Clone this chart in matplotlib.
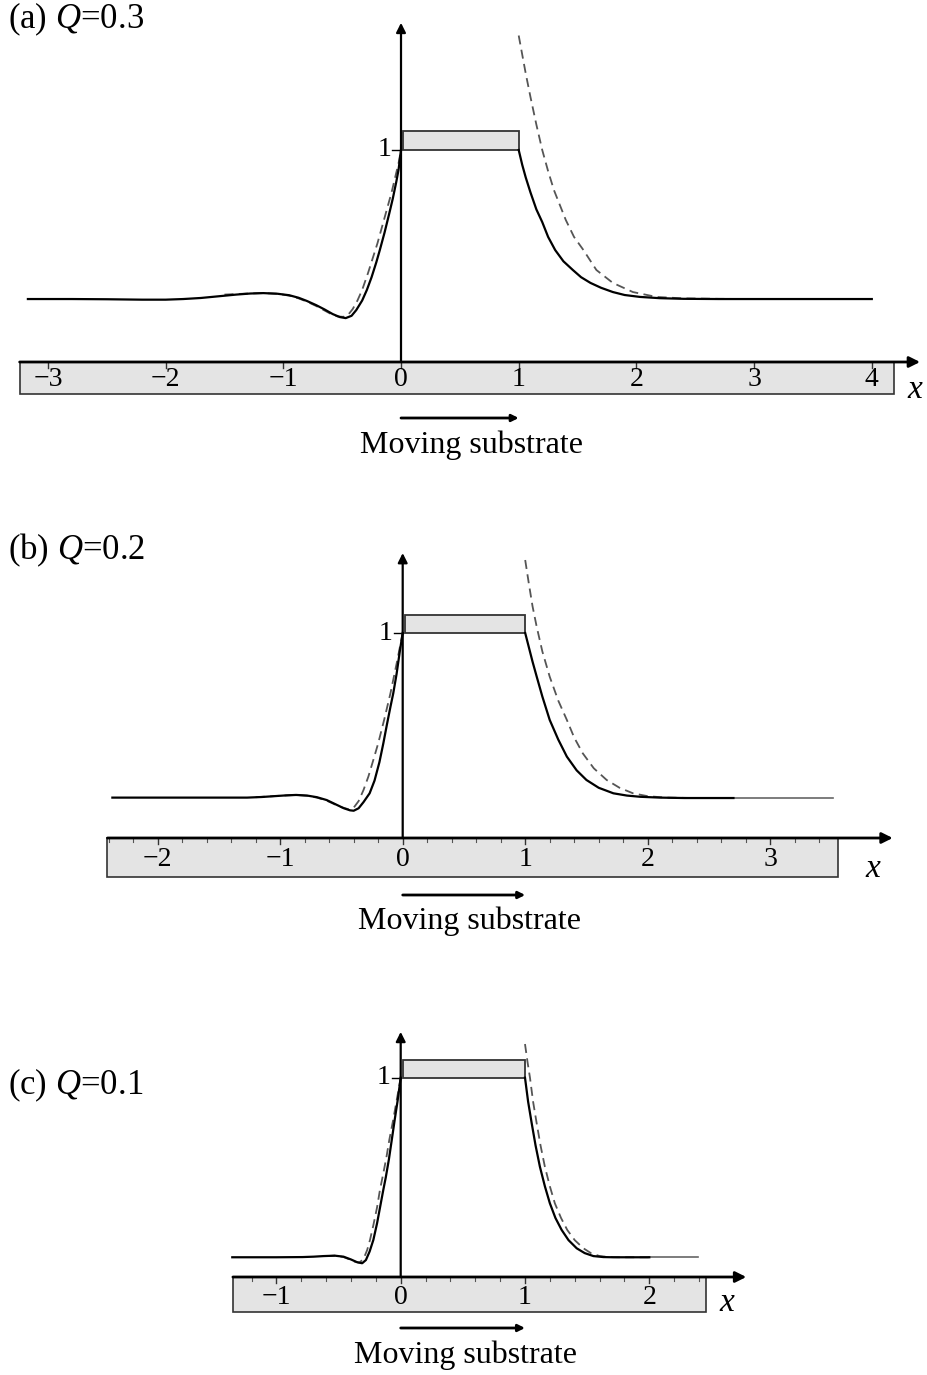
import numpy as np
import matplotlib
matplotlib.use('Agg')
import matplotlib.pyplot as plt
from matplotlib.patches import Rectangle

plt.rcParams['font.family'] = ['Liberation Serif', 'DejaVu Serif']
plt.rcParams['mathtext.fontset'] = 'custom'
plt.rcParams['mathtext.rm'] = 'Liberation Serif'
plt.rcParams['mathtext.it'] = 'Liberation Serif:italic'

# ---- data (x, film height) ----
# (a) Q=0.3
a_left_x = [-3.17, -2.8, -2.5, -2.2, -2.0, -1.85, -1.7, -1.55, -1.4, -1.28, -1.17, -1.05, -0.95, -0.87,
            -0.8, -0.72, -0.65, -0.58, -0.52, -0.47, -0.42, -0.38, -0.33, -0.29, -0.25, -0.21, -0.18,
            -0.14, -0.1, -0.07, -0.04, -0.02, 0.0]
a_left_y = [0.297, 0.297, 0.296, 0.294, 0.294, 0.297, 0.302, 0.310, 0.318, 0.323, 0.325, 0.322, 0.315, 0.303,
            0.288, 0.268, 0.248, 0.226, 0.212, 0.207, 0.218, 0.245, 0.290, 0.34, 0.40, 0.47, 0.528,
            0.61, 0.70, 0.77, 0.85, 0.91, 1.0]
a_right_x = [1.0, 1.03, 1.06, 1.1, 1.15, 1.2, 1.25, 1.31, 1.38, 1.46, 1.53, 1.61, 1.7, 1.8, 1.9, 2.03,
             2.2, 2.4, 2.7, 4.0]
a_right_y = [1.0, 0.93, 0.87, 0.80, 0.72, 0.66, 0.59, 0.528, 0.475, 0.434, 0.400, 0.373, 0.350, 0.330,
             0.316, 0.307, 0.301, 0.298, 0.297, 0.297]
a_dleft_x = [-1.5, -1.3, -1.17, -1.05, -0.95, -0.87, -0.8, -0.72, -0.65, -0.59, -0.54, -0.49, -0.45,
             -0.41, -0.37, -0.33, -0.28, -0.24, -0.2, -0.16, -0.12, -0.08, -0.05, -0.02, 0.0]
a_dleft_y = [0.318, 0.323, 0.325, 0.322, 0.313, 0.300, 0.285, 0.264, 0.243, 0.225, 0.215, 0.213, 0.222,
             0.250, 0.29, 0.34, 0.42, 0.49, 0.56, 0.64, 0.72, 0.80, 0.87, 0.94, 1.0]
a_dright_x = [1.0, 1.03, 1.06, 1.1, 1.15, 1.2, 1.25, 1.3, 1.35, 1.4, 1.47, 1.55, 1.66, 1.8, 1.97, 2.17,
              2.4, 2.7, 3.0]
a_dright_y = [1.54, 1.45, 1.36, 1.25, 1.12, 1.0, 0.90, 0.81, 0.74, 0.67, 0.59, 0.528, 0.434, 0.373,
              0.330, 0.307, 0.300, 0.298, 0.297]

# (b) Q=0.2
b_left_x = [-2.37, -2.0, -1.6, -1.27, -1.15, -1.05, -0.95, -0.87, -0.78, -0.7, -0.62, -0.55, -0.48,
            -0.43, -0.40, -0.36, -0.32, -0.27, -0.23, -0.19, -0.158, -0.13, -0.10, -0.077, -0.05,
            -0.022, 0.0]
b_left_y = [0.197, 0.197, 0.197, 0.197, 0.200, 0.204, 0.208, 0.210, 0.207, 0.199, 0.185, 0.165, 0.145,
            0.135, 0.133, 0.145, 0.175, 0.218, 0.28, 0.37, 0.462, 0.55, 0.64, 0.706, 0.80,
            0.917, 1.0]
b_right_x = [1.0, 1.03, 1.06, 1.094, 1.14, 1.2, 1.27, 1.34, 1.42, 1.5, 1.6, 1.72, 1.83, 1.94, 2.1, 2.3, 2.7]
b_right_y = [1.0, 0.93, 0.86, 0.787, 0.69, 0.576, 0.48, 0.397, 0.33, 0.283, 0.245, 0.218, 0.207, 0.201,
             0.197, 0.195, 0.195]
b_tail_x = [2.7, 3.51]
b_tail_y = [0.195, 0.195]
b_dleft_x = [-1.2, -1.0, -0.87, -0.78, -0.7, -0.62, -0.55, -0.5, -0.44, -0.40, -0.36, -0.32, -0.28,
             -0.24, -0.2, -0.15, -0.1, -0.05, 0.0]
b_dleft_y = [0.199, 0.206, 0.210, 0.206, 0.197, 0.182, 0.163, 0.150, 0.140, 0.148, 0.180, 0.234, 0.30,
             0.38, 0.462, 0.58, 0.706, 0.85, 1.0]
b_dright_x = [1.0, 1.03, 1.06, 1.094, 1.14, 1.2, 1.27, 1.34, 1.4, 1.47, 1.56, 1.665, 1.77, 1.88, 2.0,
              2.15, 2.4]
b_dright_y = [1.356, 1.24, 1.13, 1.03, 0.91, 0.787, 0.67, 0.576, 0.49, 0.413, 0.34, 0.283, 0.245, 0.218,
              0.204, 0.197, 0.195]

# (c) Q=0.1
c_left_x = [-1.355, -1.0, -0.79, -0.7, -0.62, -0.53, -0.46, -0.40, -0.35, -0.31, -0.28, -0.25, -0.22,
            -0.19, -0.16, -0.14, -0.12, -0.095, -0.072, -0.048, -0.024, 0.0]
c_left_y = [0.099, 0.099, 0.100, 0.102, 0.105, 0.107, 0.102, 0.088, 0.074, 0.069, 0.085, 0.128, 0.186,
            0.27, 0.37, 0.437, 0.50, 0.59, 0.687, 0.79, 0.888, 1.0]
c_right_x = [1.0, 1.025, 1.054, 1.085, 1.12, 1.16, 1.2, 1.245, 1.295, 1.35, 1.416, 1.48, 1.55, 1.63, 1.71, 2.0]
c_right_y = [1.0, 0.88, 0.771, 0.66, 0.553, 0.455, 0.370, 0.296, 0.236, 0.185, 0.144, 0.120, 0.105,
             0.100, 0.099, 0.099]
c_tail_x = [2.0, 2.39]
c_tail_y = [0.099, 0.099]
c_dleft_x = [-0.6, -0.53, -0.46, -0.41, -0.37, -0.333, -0.3, -0.27, -0.247, -0.22, -0.19, -0.167, -0.14,
             -0.115, -0.092, -0.06, -0.032, 0.0]
c_dleft_y = [0.105, 0.107, 0.100, 0.088, 0.077, 0.072, 0.090, 0.135, 0.186, 0.26, 0.35, 0.437, 0.52,
             0.60, 0.687, 0.79, 0.888, 1.0]
c_dright_x = [1.0, 1.02, 1.04, 1.065, 1.094, 1.125, 1.16, 1.2, 1.24, 1.29, 1.34, 1.4, 1.47, 1.53, 1.60,
              1.68, 1.76, 2.0]
c_dright_y = [1.169, 1.08, 1.0, 0.88, 0.771, 0.66, 0.553, 0.455, 0.370, 0.296, 0.236, 0.185, 0.144,
              0.120, 0.105, 0.100, 0.099, 0.099]

W, H = 927, 1375
fig = plt.figure(figsize=(W / 100, H / 100), dpi=100)

SOLID = dict(color='black', lw=1.6, solid_joinstyle='round', clip_on=False, zorder=4)
DASH = dict(color='#555555', lw=1.3, dashes=(5, 3), clip_on=False, zorder=3)
FS_TICK = 20
FS_TEXT = 23
FS_LABEL = 25


def make_panel(px0, sx, py0, sy, top_px, bot_px):
    ax = fig.add_axes([0, 1 - bot_px / H, 1, (bot_px - top_px) / H])
    ax.set_xlim(-px0 / sx, (W - px0) / sx)
    ax.set_ylim((py0 - bot_px) / sy, (py0 - top_px) / sy)
    ax.axis('off')
    return ax


def draw_panel(ax, sx, sy, box, arrow_end, y_top, majors, minors, label, label_y,
               xlab_x, xlab_y, tl_off, ms_y, ms_text_y, ms_text_x):
    # substrate
    ax.add_patch(Rectangle((box[0], box[2]), box[1] - box[0], -box[2],
                           fc='#e4e4e4', ec='#333333', lw=1.2, zorder=1))
    ax.annotate('', xy=(arrow_end, 0), xytext=(box[0], 0),
                arrowprops=dict(arrowstyle='-|>', lw=2.0, color='black',
                                mutation_scale=16, shrinkA=0, shrinkB=0), zorder=5)
    for t in majors:
        ax.plot([t, t], [0, -6 / sy], color='#333333', lw=1.0, zorder=2)
        s = ('\u2212%d' % -t) if t < 0 else '%d' % t
        ax.text(t, -tl_off / sy, s, ha='center', va='center', fontsize=FS_TICK)
    for t in minors:
        ax.plot([t, t], [0, -3.5 / sy], color='#555555', lw=0.8, zorder=2)
    # y axis
    ax.annotate('', xy=(0, y_top), xytext=(0, 0),
                arrowprops=dict(arrowstyle='-|>', lw=1.6, color='black',
                                mutation_scale=14, shrinkA=0, shrinkB=0), zorder=5)
    ax.plot([-9 / sx, 0], [1, 1], color='black', lw=1.0)
    ax.text(-10 / sx, 1, '1', ha='right', va='center', fontsize=FS_TICK)
    # die
    ax.add_patch(Rectangle((2 / sx, 1), 1 - 2 / sx, 0.09,
                           fc='#e4e4e4', ec='#333333', lw=1.3, zorder=3))
    # moving substrate arrow
    ax.annotate('', xy=(1.0, ms_y), xytext=(0, ms_y),
                arrowprops=dict(arrowstyle='-|>', lw=2.0, color='black',
                                mutation_scale=10, shrinkA=0, shrinkB=0))
    ax.text(ms_text_x, ms_text_y, 'Moving substrate', ha='center', va='center', fontsize=FS_TEXT)
    ax.text(xlab_x, xlab_y, 'x', ha='center', va='center', fontsize=FS_TEXT + 1, style='italic')
    ax.text(label[0], label_y, label[1], ha='left', va='center', fontsize=FS_LABEL)


# (a)
sx, sy = 117.7, 212.0
ax = make_panel(401, sx, 362, sy, 0, 475)
ax.plot(a_dleft_x, a_dleft_y, **DASH)
ax.plot(a_dright_x, a_dright_y, **DASH)
ax.plot(a_left_x, a_left_y, **SOLID)
ax.plot(a_right_x, a_right_y, **SOLID)
draw_panel(ax, sx, sy, (-3.24, 4.19, -0.151), 4.41, 1.6, range(-3, 5), [],
           (-3.34, '(a) $Q$=0.3'), (362 - 19) / sy, (915 - 401) / sx, (362 - 390) / sy, 18,
           (362 - 418) / sy, (362 - 445) / sy, (472 - 401) / sx)

# (b)
sx, sy = 122.5, 205.0
ax = make_panel(402.7, sx, 838, sy, 475, 950)
ax.plot(b_dleft_x, b_dleft_y, **DASH)
ax.plot(b_dright_x, b_dright_y, **DASH)
ax.plot(b_left_x, b_left_y, **SOLID)
ax.plot(b_right_x, b_right_y, **SOLID)
ax.plot(b_tail_x, b_tail_y, color='#666666', lw=1.2, clip_on=False)
draw_panel(ax, sx, sy, (-2.41, 3.55, -0.189), 4.0, 1.39, range(-2, 4),
           [v / 5 for v in range(-12, 18) if v % 5], (-3.22, '(b) $Q$=0.2'), (838 - 550) / sy,
           (873 - 402.7) / sx, (838 - 869) / sy, 21,
           (838 - 895) / sy, (838 - 921) / sy, (469 - 402.7) / sx)

# (c)
sx, sy = 124.3, 199.3
ax = make_panel(400.7, sx, 1277, sy, 950, 1375)
ax.plot(c_dleft_x, c_dleft_y, **DASH)
ax.plot(c_dright_x, c_dright_y, **DASH)
ax.plot(c_left_x, c_left_y, **SOLID)
ax.plot(c_right_x, c_right_y, **SOLID)
ax.plot(c_tail_x, c_tail_y, color='#666666', lw=1.2, clip_on=False)
draw_panel(ax, sx, sy, (-1.35, 2.46, -0.177), 2.78, 1.23, range(-1, 3),
           [v / 5 for v in range(-6, 13) if v % 5], (-3.16, '(c) $Q$=0.1'), (1277 - 1085) / sy,
           (727 - 400.7) / sx, (1277 - 1303) / sy, 20,
           (1277 - 1328) / sy, (1277 - 1355) / sy, (465 - 400.7) / sx)

fig.savefig('out.png', dpi=100)
